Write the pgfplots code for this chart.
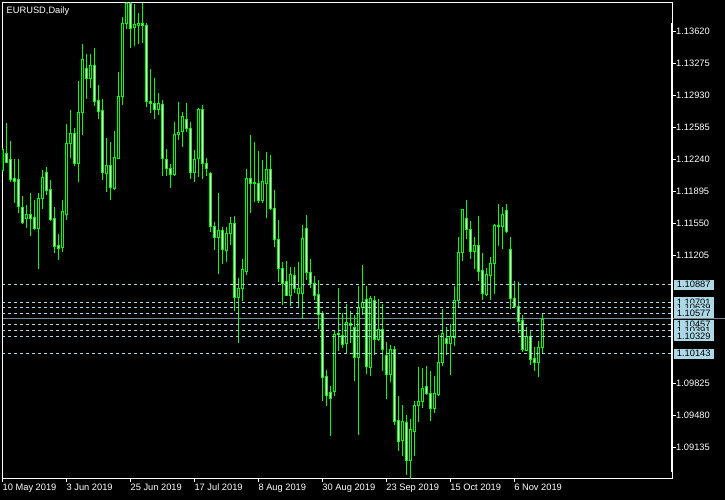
\documentclass[border=0pt]{standalone}
\usepackage{pgfplots}
\pgfplotsset{compat=1.18}
\usepackage{pgfplotstable}
\usepackage{fontspec}
\setmainfont{Liberation Sans}
\definecolor{mtgreen}{RGB}{0,255,0}
\definecolor{lvl}{RGB}{173,216,230}
\definecolor{bidgray}{RGB}{119,136,153}
\newcommand\lbl{\fontsize{9.3}{11}\selectfont}

% EURUSD daily bars, 10 May 2019 (x=0) to 15 Nov 2019 (x=135)
\pgfplotstableread{
x o h l c
0 1.12120 1.12365 1.12106 1.12344
1 1.12300 1.12632 1.12200 1.12207
2 1.12243 1.12441 1.12001 1.12020
3 1.12038 1.12243 1.11775 1.12001
4 1.12020 1.12243 1.11660 1.11732
5 1.11725 1.11847 1.11545 1.11559
6 1.11602 1.11750 1.11505 1.11650
7 1.11645 1.11876 1.11419 1.11602
8 1.11617 1.11804 1.11480 1.11491
9 1.11499 1.11876 1.11060 1.11815
10 1.11818 1.12128 1.11707 1.12049
11 1.12103 1.12164 1.11858 1.11904
12 1.11912 1.12020 1.11581 1.11596
13 1.11599 1.11725 1.11235 1.11300
14 1.11308 1.11434 1.11160 1.11279
15 1.11294 1.11804 1.11246 1.11682
16 1.11650 1.12624 1.11588 1.12416
17 1.12416 1.12775 1.12254 1.12516
18 1.12524 1.12581 1.12171 1.12200
19 1.12200 1.13088 1.12001 1.12750
20 1.12746 1.13487 1.12505 1.13322
21 1.13225 1.13379 1.12894 1.13117
22 1.13117 1.13379 1.13016 1.13257
23 1.13257 1.13447 1.12818 1.12865
24 1.12872 1.13045 1.12678 1.12757
25 1.12764 1.12894 1.12020 1.12103
26 1.12092 1.12470 1.11894 1.12174
27 1.12174 1.12427 1.11804 1.11941
28 1.11930 1.12549 1.11912 1.12265
29 1.12254 1.13188 1.12243 1.12919
30 1.12919 1.13775 1.12829 1.13703
31 1.13703 1.14000 1.13649 1.13926
32 1.13926 1.14000 1.13441 1.13657
33 1.13667 1.13919 1.13469 1.13692
34 1.13685 1.13819 1.13484 1.13703
35 1.13703 1.13926 1.13501 1.13685
36 1.13682 1.13711 1.12811 1.12865
37 1.12865 1.13218 1.12746 1.12847
38 1.12847 1.13117 1.12678 1.12775
39 1.12775 1.12955 1.12721 1.12847
40 1.12837 1.12883 1.12063 1.12254
41 1.12243 1.12352 1.12066 1.12146
42 1.12146 1.12189 1.11937 1.12081
43 1.12081 1.12642 1.12063 1.12513
44 1.12513 1.12858 1.12451 1.12535
45 1.12541 1.12750 1.12379 1.12705
46 1.12667 1.12847 1.12535 1.12578
47 1.12578 1.12642 1.12031 1.12103
48 1.12103 1.12344 1.12001 1.12243
49 1.12246 1.12801 1.12056 1.12775
50 1.12775 1.12829 1.12031 1.12200
51 1.12200 1.12254 1.12066 1.12146
52 1.12092 1.12103 1.11462 1.11516
53 1.11516 1.11570 1.11265 1.11397
54 1.11397 1.11883 1.11006 1.11470
55 1.11470 1.11509 1.11113 1.11272
56 1.11257 1.11509 1.11132 1.11445
57 1.11437 1.11617 1.11318 1.11553
58 1.11553 1.11632 1.10599 1.10750
59 1.10750 1.10959 1.10258 1.10851
60 1.10851 1.11164 1.10707 1.11057
61 1.11031 1.12136 1.10995 1.12038
62 1.12038 1.12505 1.11667 1.11984
63 1.11987 1.12427 1.11786 1.11979
64 1.11984 1.12333 1.11768 1.11797
65 1.11797 1.12236 1.11772 1.12001
66 1.11984 1.12325 1.11613 1.12136
67 1.12136 1.12289 1.11696 1.11707
68 1.11714 1.11912 1.11300 1.11380
69 1.11380 1.11588 1.10912 1.11067
70 1.11067 1.11128 1.10664 1.10898
71 1.10922 1.11146 1.10761 1.10771
72 1.10771 1.11074 1.10653 1.11002
73 1.10987 1.11084 1.10797 1.10851
74 1.10797 1.11132 1.10635 1.10851
75 1.10797 1.11534 1.10517 1.11391
76 1.11499 1.11642 1.10941 1.11024
77 1.11024 1.11167 1.10851 1.10898
78 1.10905 1.10984 1.10725 1.10771
79 1.10779 1.10941 1.10412 1.10571
80 1.10574 1.10606 1.09628 1.09891
81 1.09897 1.09970 1.09574 1.09692
82 1.09729 1.09790 1.09250 1.09664
83 1.09736 1.10383 1.09682 1.10355
84 1.10358 1.10851 1.10167 1.10347
85 1.10340 1.10582 1.10204 1.10247
86 1.10258 1.10682 1.10150 1.10484
87 1.10445 1.10599 1.10258 1.10474
88 1.10426 1.10563 1.09844 1.10107
89 1.10107 1.10879 1.09261 1.10646
90 1.10646 1.11103 1.10556 1.10700
91 1.10725 1.10869 1.09927 1.10005
92 1.09995 1.10761 1.09897 1.10736
93 1.10717 1.10761 1.10132 1.10301
94 1.10301 1.10736 1.10275 1.10401
95 1.10409 1.10682 1.09959 1.10186
96 1.10124 1.10264 1.09657 1.09923
97 1.09923 1.10239 1.09837 1.10193
98 1.10193 1.10229 1.09376 1.09412
99 1.09419 1.09682 1.09088 1.09196
100 1.09204 1.09592 1.09042 1.09412
101 1.09405 1.09484 1.08837 1.08991
102 1.08991 1.09438 1.08794 1.09322
103 1.09304 1.09628 1.09034 1.09585
104 1.09585 1.09999 1.09405 1.09628
105 1.09628 1.09988 1.09556 1.09772
106 1.09790 1.10013 1.09700 1.09708
107 1.09708 1.09959 1.09412 1.09556
108 1.09556 1.09905 1.09502 1.09708
109 1.09700 1.10347 1.09689 1.10053
110 1.10053 1.10625 1.10005 1.10366
111 1.10312 1.10430 1.10124 1.10258
112 1.10250 1.10463 1.09908 1.10329
113 1.10323 1.10869 1.10221 1.10714
114 1.10714 1.11408 1.10646 1.11240
115 1.11240 1.11707 1.11149 1.11696
116 1.11607 1.11804 1.11383 1.11488
117 1.11488 1.11577 1.11167 1.11246
118 1.11246 1.11408 1.11060 1.11308
119 1.11308 1.11631 1.10933 1.11030
120 1.11038 1.11229 1.10725 1.10790
121 1.10779 1.11067 1.10761 1.10995
122 1.10987 1.11192 1.10725 1.11121
123 1.11121 1.11545 1.10790 1.11524
124 1.11524 1.11761 1.11308 1.11516
125 1.11516 1.11725 1.11272 1.11650
126 1.11689 1.11761 1.11445 1.11462
127 1.11272 1.11402 1.10628 1.10736
128 1.10743 1.10930 1.10646 1.10653
129 1.10653 1.10916 1.10366 1.10491
130 1.10498 1.10563 1.10161 1.10193
131 1.10178 1.10430 1.10167 1.10329
132 1.10329 1.10401 1.10024 1.10085
133 1.10096 1.10210 1.09951 1.10049
134 1.10049 1.10283 1.09887 1.10215
135 1.10215 1.10582 1.10150 1.10517
}\eurusd

\tikzset{lvlbox/.style={fill=lvl, text=black, anchor=west, inner sep=0pt,
  minimum width=39.5pt, minimum height=10pt, font=\lbl, xshift=1.8pt}}

\begin{document}
\begin{tikzpicture}[x=1pt,y=1pt]
\fill[black] (0,0) rectangle (725,500);
% bid line runs out to the right edge
\draw[bidgray, line width=1pt] (2.5,180.9) -- (725,180.9);
\begin{axis}[
  at={(2.5pt,21.5pt)}, anchor=south west,
  width=670pt, height=476pt, scale only axis,
  xmin=0, xmax=167.5, ymin=1.08799, ymax=1.13935,
  clip mode=individual,
  axis line style={white, line width=1pt},
  tick style={white, line width=1pt},
  tick align=outside, major tick length=4pt,
  xtick pos=left, ytick pos=right,
  xtick={0,16,32,48,64,80,96,112,128},
  xticklabels={10 May 2019,3 Jun 2019,25 Jun 2019,17 Jul 2019,8 Aug 2019,30 Aug 2019,23 Sep 2019,15 Oct 2019,6 Nov 2019},
  ytick={1.09135,1.09480,1.09825,1.11205,1.11550,1.11895,1.12240,1.12585,1.12930,1.13275,1.13620},
  yticklabels={1.09135,1.09480,1.09825,1.11205,1.11550,1.11895,1.12240,1.12585,1.12930,1.13275,1.13620},
  xticklabel style={anchor=north west, inner sep=0pt, text=white, font=\lbl, yshift=-1.5pt},
  yticklabel style={anchor=west, inner sep=0pt, text=white, font=\lbl},
  candle/.style={draw=none, mark=none, forget plot,
    error bars/.cd, y dir=#1, y explicit, error mark=none},
]
% wicks
\addplot[error bars/error bar style={draw=mtgreen, line width=1pt}, candle=plus]
  table[x=x, y=l, y error plus expr={\thisrow{h}-\thisrow{l}}] {\eurusd};
% bodies (green outline)
\addplot[error bars/error bar style={draw=mtgreen, line width=3pt}, candle=minus]
  table[x=x, y expr={max(\thisrow{o},\thisrow{c})+0.000054},
        y error minus expr={abs(\thisrow{o}-\thisrow{c})+0.000108}] {\eurusd};
% bear bodies: white inside
\addplot[restrict expr to domain={\thisrow{o}-\thisrow{c}}{0.00011:1},
  error bars/error bar style={draw=white, line width=1pt}, candle=minus]
  table[x=x, y expr={\thisrow{o}-0.000054},
        y error minus expr={\thisrow{o}-\thisrow{c}-0.000108}] {\eurusd};
% bull bodies: black inside
\addplot[restrict expr to domain={\thisrow{c}-\thisrow{o}}{0.00011:1},
  error bars/error bar style={draw=black, line width=1pt}, candle=minus]
  table[x=x, y expr={\thisrow{c}-0.000054},
        y error minus expr={\thisrow{c}-\thisrow{o}-0.000108}] {\eurusd};
% horizontal levels
\addplot[lvl, line width=1pt, dash pattern=on 3pt off 3pt] coordinates {(0,1.10887) (167.5,1.10887)};
\addplot[lvl, line width=1pt, dash pattern=on 3pt off 3pt] coordinates {(0,1.10701) (167.5,1.10701)};
\addplot[lvl, line width=1pt, dash pattern=on 3pt off 3pt] coordinates {(0,1.10639) (167.5,1.10639)};
\addplot[lvl, line width=1pt, dash pattern=on 3pt off 3pt] coordinates {(0,1.10577) (167.5,1.10577)};
\addplot[lvl, line width=1pt, dash pattern=on 3pt off 3pt] coordinates {(0,1.10457) (167.5,1.10457)};
\addplot[lvl, line width=1pt, dash pattern=on 3pt off 3pt] coordinates {(0,1.10391) (167.5,1.10391)};
\addplot[lvl, line width=1pt, dash pattern=on 3pt off 3pt] coordinates {(0,1.10329) (167.5,1.10329)};
\addplot[lvl, line width=1pt, dash pattern=on 3pt off 3pt] coordinates {(0,1.10143) (167.5,1.10143)};
\node[lvlbox] at (axis cs:167.5,1.10887) {1.10887};
\node[lvlbox] at (axis cs:167.5,1.10701) {1.10701};
\node[lvlbox] at (axis cs:167.5,1.10639) {1.10639};
\node[lvlbox] at (axis cs:167.5,1.10577) {1.10577};
\node[lvlbox] at (axis cs:167.5,1.10457) {1.10457};
\node[lvlbox] at (axis cs:167.5,1.10391) {1.10391};
\node[lvlbox] at (axis cs:167.5,1.10329) {1.10329};
\node[lvlbox] at (axis cs:167.5,1.10143) {1.10143};
\end{axis}
% thicker price-scale line
\draw[white, line width=2pt] (672,477) -- (672,28);
\node[anchor=base west, inner sep=0pt, text=white, font=\lbl] at (6.5,486.5) {EURUSD,Daily};
\end{tikzpicture}
\end{document}
